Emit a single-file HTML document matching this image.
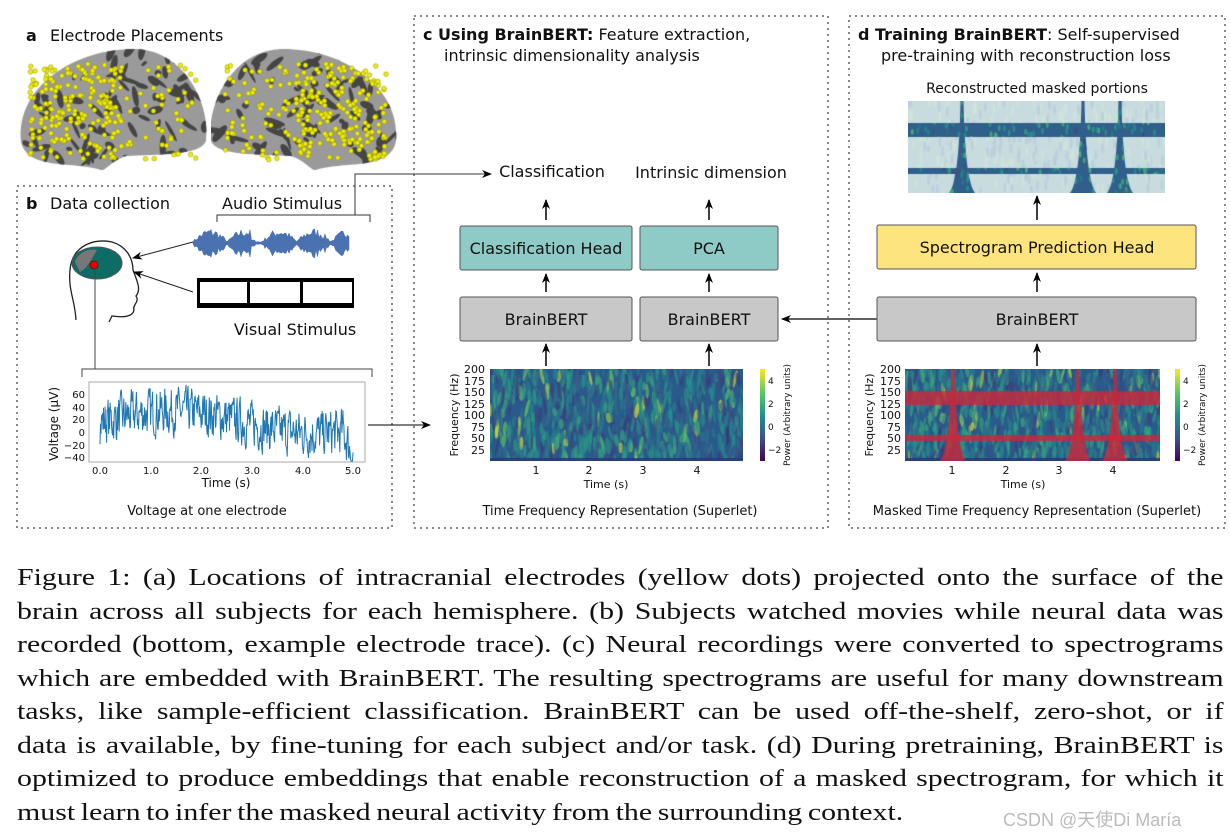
<!DOCTYPE html>
<html><head><meta charset="utf-8">
<style>
html,body{margin:0;padding:0;background:#fff;}
body{width:1230px;height:834px;position:relative;overflow:hidden;}
svg text{font-family:"DejaVu Sans",sans-serif;fill:#111;}
#cap{position:absolute;left:17px;top:561px;width:989px;transform:scaleX(1.22);transform-origin:0 0;font-family:"Liberation Serif",serif;font-size:24.5px;word-spacing:-1.5px;line-height:33.5px;color:#111;}
#cap div{text-align:justify;text-align-last:justify;white-space:nowrap;}
#cap div.l{text-align-last:left;}
canvas{position:absolute;}
</style></head><body>
<canvas id="brainL" width="195" height="125" style="left:16px;top:46px"></canvas>
<canvas id="brainR" width="190" height="126" style="left:211px;top:46px"></canvas>
<canvas id="specC" width="253" height="92" style="left:490px;top:369px"></canvas>
<canvas id="specD" width="255" height="92" style="left:905px;top:369px"></canvas>
<canvas id="rec" width="257" height="92" style="left:908px;top:101px"></canvas>
<svg width="1230" height="560" style="position:absolute;left:0;top:0">
<defs><marker id="ah" markerWidth="10" markerHeight="10" refX="9" refY="5" orient="auto" markerUnits="userSpaceOnUse"><path d="M0,1 L10,5 L0,9 L3,5 z" fill="#000"/></marker>
<linearGradient id="vir" x1="0" y1="1" x2="0" y2="0"><stop offset="0" stop-color="#440154"/><stop offset=".25" stop-color="#3b528b"/><stop offset=".5" stop-color="#21918c"/><stop offset=".75" stop-color="#5ec962"/><stop offset="1" stop-color="#fde725"/></linearGradient></defs>
<g fill="none" stroke="#888" stroke-width="2" stroke-dasharray="2 4">
<rect x="17" y="186" width="375" height="342"/>
<rect x="414" y="16" width="414" height="512"/>
<rect x="849" y="16" width="376" height="512"/>
</g>
<text x="26" y="41" font-size="16" font-weight="bold">a</text><text x="50" y="41" font-size="16">Electrode Placements</text>
<text x="26" y="209" font-size="16" font-weight="bold">b</text><text x="50" y="209" font-size="16">Data collection</text>
<text x="222" y="209" font-size="16">Audio Stimulus</text>
<text x="423" y="40" font-size="16"><tspan font-weight="bold">c  Using BrainBERT:</tspan> Feature extraction,</text>
<text x="444" y="61" font-size="16">intrinsic dimensionality analysis</text>
<text x="858" y="40" font-size="16"><tspan font-weight="bold">d  Training BrainBERT</tspan>: Self-supervised</text>
<text x="881" y="61" font-size="16">pre-training with reconstruction loss</text>
<text x="1037" y="93" font-size="14" text-anchor="middle">Reconstructed masked portions</text>
<path d="M217,222 V215 H370 V222 M355,215 V174 H488" fill="none" stroke="#333" stroke-width="1"/>
<path d="M488,174 H491" stroke="#000" marker-end="url(#ah)"/>
<text x="552" y="177" font-size="16" text-anchor="middle">Classification</text>
<text x="711" y="178" font-size="16" text-anchor="middle">Intrinsic dimension</text>
<path id="wave" fill="#4a72b0" stroke="#4a72b0" stroke-width="0.5" d=""/>
<rect x="197" y="278" width="157" height="30" fill="#000"/>
<rect x="200" y="282" width="47" height="21" fill="#fff"/><rect x="250" y="282" width="50" height="21" fill="#fff"/><rect x="303" y="282" width="49" height="21" fill="#fff"/>
<text x="295" y="335" font-size="16" text-anchor="middle">Visual Stimulus</text>
<path d="M76,320 C75,300 68,290 70,270 C72,245 95,238 112,242 C126,246 133,258 133,270 C138,283 141,290 136,296 C140,302 132,305 134,310 C133,316 126,318 112,316 L109,322" fill="none" stroke="#222" stroke-width="1.3"/>
<ellipse cx="97" cy="263" rx="25" ry="16" fill="#0e6b66" stroke="#555"/>
<path d="M75,262 C78,252 90,248 97,250 C92,258 88,268 80,272z" fill="#777"/>
<circle cx="94" cy="265" r="4" fill="#e00" stroke="#600" stroke-width=".7"/>
<path d="M193,242 L133,258" stroke="#222" marker-end="url(#ah)"/>
<path d="M193,292 L134,272" stroke="#222" marker-end="url(#ah)"/>
<path d="M95,266 V369 M82,377 V369 H372 V377" fill="none" stroke="#444" stroke-width="1"/>
<rect x="89" y="382" width="276" height="80" fill="none" stroke="#aaa"/>
<path id="volt" fill="none" stroke="#1f77b4" stroke-width="1" d=""/>
<g font-size="10" fill="#222" text-anchor="end">
<text x="85" y="398">60</text><text x="85" y="411">40</text><text x="85" y="423">20</text><text x="85" y="436">0</text><text x="85" y="449">−20</text><text x="85" y="461">−40</text></g>
<g font-size="10" text-anchor="middle"><text x="100" y="474">0.0</text><text x="151" y="474">1.0</text><text x="201" y="474">2.0</text><text x="252" y="474">3.0</text><text x="303" y="474">4.0</text><text x="353" y="474">5.0</text></g>
<text x="226" y="487" font-size="12" text-anchor="middle">Time (s)</text>
<text transform="translate(58,424) rotate(-90)" font-size="12" text-anchor="middle">Voltage (μV)</text>
<text x="207" y="515" font-size="13" text-anchor="middle">Voltage at one electrode</text>
<path d="M368,425 H430" stroke="#000" marker-end="url(#ah)"/>
<rect x="460" y="226" width="172" height="44" fill="#8fcbc6" stroke="#555" rx="2"/>
<text x="546" y="254" font-size="16" text-anchor="middle">Classification Head</text>
<rect x="640" y="226" width="138" height="44" fill="#8fcbc6" stroke="#555" rx="2"/>
<text x="709" y="254" font-size="16" text-anchor="middle">PCA</text>
<rect x="460" y="297" width="172" height="44" fill="#c8c8c8" stroke="#555" rx="2"/>
<text x="546" y="325" font-size="16" text-anchor="middle">BrainBERT</text>
<rect x="640" y="297" width="138" height="44" fill="#c8c8c8" stroke="#555" rx="2"/>
<text x="709" y="325" font-size="16" text-anchor="middle">BrainBERT</text>
<g stroke="#000" stroke-width="1.5">
<path d="M546,220 V200" marker-end="url(#ah)"/><path d="M709,220 V200" marker-end="url(#ah)"/>
<path d="M546,292 V274" marker-end="url(#ah)"/><path d="M709,292 V274" marker-end="url(#ah)"/>
<path d="M546,366 V344" marker-end="url(#ah)"/><path d="M709,366 V344" marker-end="url(#ah)"/>
<path d="M1037,220 V196" marker-end="url(#ah)"/><path d="M1037,292 V273" marker-end="url(#ah)"/><path d="M1037,366 V344" marker-end="url(#ah)"/>
</g>
<path d="M877,319 H782" stroke="#000" stroke-width="1.2" marker-end="url(#ah)"/>
<rect x="877" y="225" width="319" height="44" fill="#fde47f" stroke="#555" rx="2"/>
<text x="1037" y="253" font-size="16" text-anchor="middle">Spectrogram Prediction Head</text>
<rect x="877" y="297" width="319" height="44" fill="#c8c8c8" stroke="#555" rx="2"/>
<text x="1037" y="325" font-size="16" text-anchor="middle">BrainBERT</text>
<g font-size="11" text-anchor="end"><text x="485" y="373">200</text><text x="485" y="385">175</text><text x="485" y="396">150</text><text x="485" y="408">125</text><text x="485" y="419">100</text><text x="485" y="431">75</text><text x="485" y="442">50</text><text x="485" y="454">25</text></g>
<g font-size="11" text-anchor="middle"><text x="536" y="474">1</text><text x="589" y="474">2</text><text x="643" y="474">3</text><text x="697" y="474">4</text></g>
<text x="606" y="488" font-size="11" text-anchor="middle">Time (s)</text>
<text transform="translate(458,415) rotate(-90)" font-size="11" text-anchor="middle">Frequency (Hz)</text>
<rect x="760" y="369" width="5" height="92" fill="url(#vir)"/>
<g font-size="9"><text x="768" y="384">4</text><text x="768" y="407">2</text><text x="768" y="430">0</text><text x="768" y="453">−2</text></g>
<text transform="translate(790,415) rotate(-90)" font-size="9" text-anchor="middle">Power (Arbitrary units)</text>
<text x="620" y="515" font-size="13" text-anchor="middle">Time Frequency Representation (Superlet)</text>
<g font-size="11" text-anchor="end"><text x="901" y="373">200</text><text x="901" y="385">175</text><text x="901" y="396">150</text><text x="901" y="408">125</text><text x="901" y="419">100</text><text x="901" y="431">75</text><text x="901" y="442">50</text><text x="901" y="454">25</text></g>
<g font-size="11" text-anchor="middle"><text x="952" y="474">1</text><text x="1006" y="474">2</text><text x="1059" y="474">3</text><text x="1113" y="474">4</text></g>
<text x="1023" y="488" font-size="11" text-anchor="middle">Time (s)</text>
<text transform="translate(873,415) rotate(-90)" font-size="11" text-anchor="middle">Frequency (Hz)</text>
<rect x="1175" y="369" width="5" height="92" fill="url(#vir)"/>
<g font-size="9"><text x="1183" y="384">4</text><text x="1183" y="407">2</text><text x="1183" y="430">0</text><text x="1183" y="453">−2</text></g>
<text transform="translate(1205,415) rotate(-90)" font-size="9" text-anchor="middle">Power (Arbitrary units)</text>
<text x="1037" y="515" font-size="13" text-anchor="middle">Masked Time Frequency Representation (Superlet)</text>
</svg>
<div id="cap">
<div>Figure 1: (a) Locations of intracranial electrodes (yellow dots) projected onto the surface of the</div>
<div>brain across all subjects for each hemisphere. (b) Subjects watched movies while neural data was</div>
<div>recorded (bottom, example electrode trace). (c) Neural recordings were converted to spectrograms</div>
<div>which are embedded with BrainBERT. The resulting spectrograms are useful for many downstream</div>
<div>tasks, like sample-efficient classification. BrainBERT can be used off-the-shelf, zero-shot, or if</div>
<div>data is available, by fine-tuning for each subject and/or task. (d) During pretraining, BrainBERT is</div>
<div>optimized to produce embeddings that enable reconstruction of a masked spectrogram, for which it</div>
<div class="l">must learn to infer the masked neural activity from the surrounding context.</div>
</div>
<div style="position:absolute;left:1003px;top:806px;font-family:'Liberation Sans','Noto Sans CJK SC',sans-serif;font-size:18px;color:#bbb;">CSDN @天使Di María</div>
<script>
let s=7;function r(){s=(s*16807)%2147483647;return s/2147483647;}
let up=[],dn=[];
for(let x=193;x<=350;x+=1.5){let env=Math.abs(Math.sin((x-193)/11))*12+2;if(x>250&&x<262)env*=.3;let a=env*(0.4+r()*.7);up.push(x+","+(243-a));dn.push(x+","+(243+a*1.05));}
document.getElementById('wave').setAttribute('d',"M"+up.join(" L")+" L"+dn.reverse().join(" L")+"z");
let v=[],y=15;for(let i=0;i<=500;i++){let x=100+i*253/500;let tr=18*Math.sin(i/90)+22;y=y*0.3+(tr+(r()-.5)*95)*0.7;if(i>480)y-=1.5*(i-480);v.push(x.toFixed(1)+","+Math.min(461,Math.max(383,436-y*0.63)).toFixed(1));}
document.getElementById('volt').setAttribute('d',"M"+v.join(" L"));
function viridis(t){t=Math.max(0,Math.min(1,t));const c=[[68,1,84],[59,82,139],[33,145,140],[94,201,98],[253,231,37]];let f=t*4,i=Math.min(3,Math.floor(f)),u=f-i;return c[i].map((a,k)=>Math.round(a+(c[i+1][k]-a)*u));}
function spec(id,seed){let cv=document.getElementById(id),g=cv.getContext('2d');s=seed;let W=cv.width,H=cv.height;
g.fillStyle='rgb(40,90,140)';g.fillRect(0,0,W,H);
for(let i=0;i<900;i++){let x=r()*W,yy=r()*H,t=0.15+r()*0.5;if(r()<.06)t=0.75+r()*.25;let c=viridis(t);g.fillStyle=`rgba(${c[0]},${c[1]},${c[2]},0.6)`;g.beginPath();g.ellipse(x,yy,1.2+r()*1.2,4+r()*6,(r()-.5)*0.5,0,7);g.fill();}
g.fillStyle='rgba(40,60,120,0.9)';g.fillRect(0,H-3,W,3);return g;}
spec('specC',11);
let gd=spec('specD',23);gd.fillStyle='rgba(200,40,60,0.82)';gd.fillRect(0,22,255,14);gd.fillRect(0,66,255,6);
[48,173,210].forEach(c=>{gd.beginPath();gd.moveTo(c-1.5,0);gd.lineTo(c+1.5,0);gd.quadraticCurveTo(c+3,80,c+13,92);gd.lineTo(c-13,92);gd.quadraticCurveTo(c-3,80,c-1.5,0);gd.fill();});
let rc=document.getElementById('rec'),gr=rc.getContext('2d');gr.fillStyle='#c8dcdf';gr.fillRect(0,0,257,92);
s=5;for(let i=0;i<300;i++){gr.fillStyle=r()<.5?'rgba(180,200,220,.6)':'rgba(210,230,220,.6)';gr.beginPath();gr.ellipse(r()*257,r()*92,1.5,5,0,0,7);gr.fill();}
gr.save();gr.beginPath();gr.rect(0,22,257,14);gr.rect(0,67,257,6);
[54,175,212].forEach(c=>{gr.moveTo(c-1.5,0);gr.lineTo(c+1.5,0);gr.quadraticCurveTo(c+3,80,c+13,92);gr.lineTo(c-13,92);gr.quadraticCurveTo(c-3,80,c-1.5,0);});
gr.clip();gr.fillStyle='#2f5f8a';gr.fillRect(0,0,257,92);
for(let i=0;i<500;i++){let c=viridis(0.2+r()*0.5);gr.fillStyle=`rgba(${c[0]},${c[1]},${c[2]},.8)`;gr.beginPath();gr.ellipse(r()*257,r()*92,1.5,3,0,0,7);gr.fill();}
gr.restore();
function brain(id,flip,seed){let cv=document.getElementById(id),g=cv.getContext('2d');s=seed;let W=cv.width,H=cv.height;
g.save();if(flip){g.translate(W,0);g.scale(-1,1);}
g.beginPath();g.moveTo(5,95);g.bezierCurveTo(0,40,60,2,120,3);g.bezierCurveTo(170,5,195,60,190,95);g.bezierCurveTo(185,110,140,108,110,110);g.bezierCurveTo(95,115,90,125,85,124);g.bezierCurveTo(60,115,10,125,5,95);g.closePath();
g.fillStyle='#9a9a9a';g.fill();g.clip();
g.fillStyle='#454545';for(let i=0;i<110;i++){g.beginPath();g.ellipse(r()*W,r()*H,3+r()*9,1.5+r()*2.5,r()*3,0,7);g.fill();}
g.restore();
g.fillStyle='#f2ee00';g.strokeStyle='#8a8a00';g.lineWidth=.5;
for(let i=0;i<380;i++){let x=r(),y=r();let cx=flip?1-x:x;if(r()<0.6&&cx>0.55)continue;let px=14+x*(W-28),py=18+y*(H-28);if(py>H-12)continue;g.beginPath();g.arc(px,py,2.3,0,7);g.fill();g.stroke();}}
brain('brainL',false,3);brain('brainR',true,9);
</script>
</body></html>
